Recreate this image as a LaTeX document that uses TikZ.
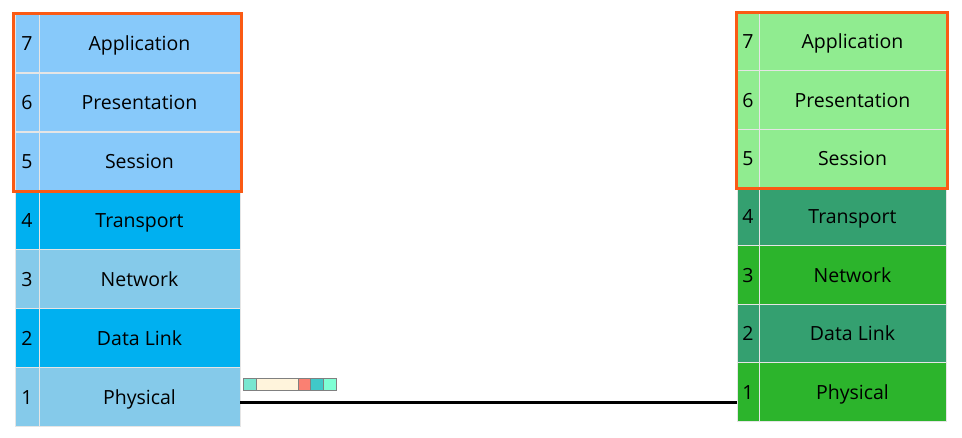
\documentclass[tikz,border=0pt]{standalone}
\usepackage{fontspec}
\setmainfont{Open Sans}
\definecolor{lbA}{RGB}{135,201,250}
\definecolor{lbB}{RGB}{0,176,240}
\definecolor{lbC}{RGB}{133,202,234}
\definecolor{lgA}{RGB}{144,236,144}
\definecolor{lgB}{RGB}{52,160,112}
\definecolor{lgC}{RGB}{44,180,44}
\definecolor{orng}{RGB}{250,90,20}
\definecolor{pA}{RGB}{120,230,208}
\definecolor{pB}{RGB}{255,244,220}
\definecolor{pC}{RGB}{250,128,114}
\definecolor{pD}{RGB}{64,200,200}
\definecolor{pE}{RGB}{127,255,212}
\tikzset{
  cell/.style={draw=white!80!gray, line width=0.6pt, minimum height=58.5pt, inner sep=0pt, outer sep=0pt, anchor=north west, text height=16.5pt, text depth=1.5pt, font=\fontsize{19.5}{22}\selectfont},
  numcell/.style={cell, minimum width=24pt},
  namecell/.style={cell, minimum width=201pt},
  rnumcell/.style={cell, minimum width=22pt},
  rnamecell/.style={cell, minimum width=187pt},
  hilite/.style={draw=orng, line width=3pt},
  pk/.style={draw=gray, line width=0.5pt, minimum height=12.5pt, inner sep=0pt, outer sep=0pt, anchor=north west},
  wire/.style={line width=3pt, black}
}
\begin{document}
\begin{tikzpicture}[x=1pt,y=-1pt]
\useasboundingbox (0,0) rectangle (962,437);
% left stack
\foreach \n/\name/\c/\k in {7/Application/lbA/0,6/Presentation/lbA/1,5/Session/lbA/2,4/Transport/lbB/3,3/Network/lbC/4,2/Data Link/lbB/5,1/Physical/lbC/6}{
  \node[numcell, fill=\c] (Ln\n) at (15,{14+58.9*\k}) {\n};
  \node[namecell, fill=\c] (L\n) at (39,{14+58.9*\k}) {\name};
}
% right stack
\foreach \n/\name/\c/\k in {7/Application/lgA/0,6/Presentation/lgA/1,5/Session/lgA/2,4/Transport/lgB/3,3/Network/lgC/4,2/Data Link/lgB/5,1/Physical/lgC/6}{
  \node[rnumcell, fill=\c] (Rn\n) at (737,{12+58.4*\k}) {\n};
  \node[rnamecell, fill=\c] (R\n) at (759,{12+58.4*\k}) {\name};
}
% highlight boxes
\draw[hilite] (Ln7.north west) ++(-1.5,-0.5) rectangle ([shift={(1.5,1)}]L5.south east);
\draw[hilite] (Rn7.north west) ++(-0.5,0) rectangle ([shift={(1.5,1.5)}]R5.south east);
% packet
\node[pk, fill=pA, minimum width=13pt] (p1) at (243,378) {};
\node[pk, fill=pB, minimum width=42.5pt] (p2) at (p1.north east) {};
\node[pk, fill=pC, minimum width=12pt] (p3) at (p2.north east) {};
\node[pk, fill=pD, minimum width=12.5pt] (p4) at (p3.north east) {};
\node[pk, fill=pE, minimum width=13.5pt] (p5) at (p4.north east) {};
% wire
\coordinate (wl) at (L1.east |- 0,402.5);
\coordinate (wr) at (Rn1.west |- 0,402.5);
\draw[wire] (wl) -- (wr);
\end{tikzpicture}
\end{document}
